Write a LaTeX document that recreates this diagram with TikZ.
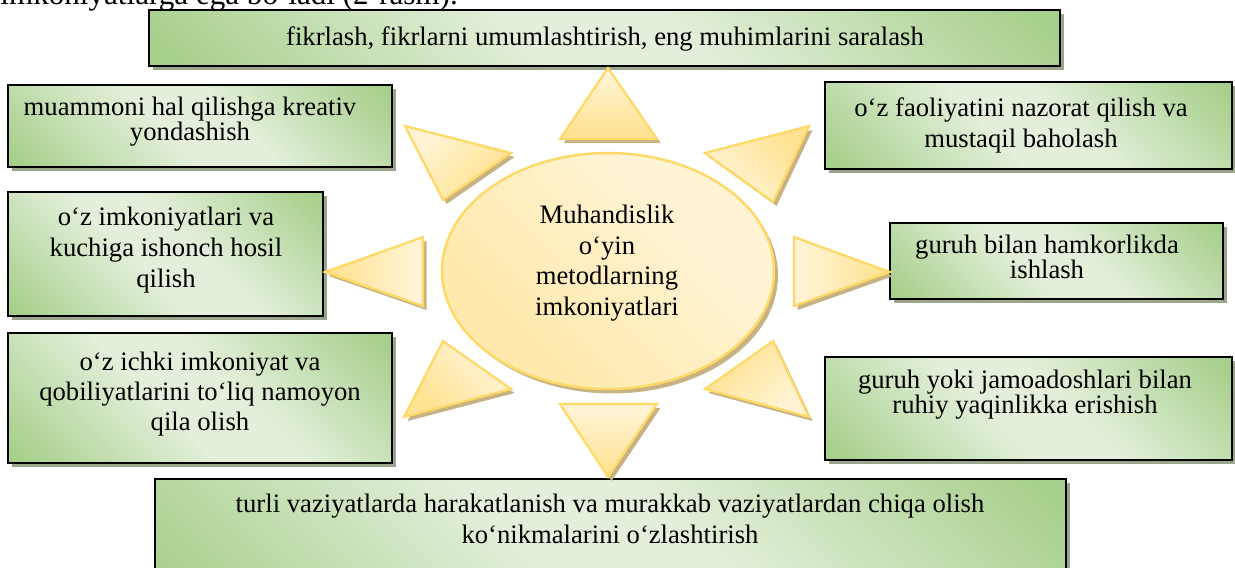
\documentclass[tikz,border=0pt]{standalone}
\usepackage{fontspec}
\setmainfont{Liberation Serif}
\usetikzlibrary{shapes.geometric,shadows}
\definecolor{gdark}{HTML}{A8D08D}
\definecolor{glight}{HTML}{E3EFDA}
\definecolor{bshadow}{HTML}{9AA58C}
\definecolor{sunedge}{HTML}{FFD966}
\definecolor{sunlight}{HTML}{FFF3D3}
\definecolor{sundark}{HTML}{FFE394}
\definecolor{sunmid}{HTML}{FFE9AC}
\definecolor{sshadow}{HTML}{C6B283}
\pgfdeclareverticalshading{greenbox}{100bp}{color(0bp)=(gdark); color(17bp)=(gdark); color(44bp)=(glight); color(56bp)=(glight); color(83bp)=(gdark); color(100bp)=(gdark)}
\pgfdeclareverticalshading{sunshade}{100bp}{color(0bp)=(sundark); color(30bp)=(sundark); color(70bp)=(sunlight); color(100bp)=(sunlight)}
\pgfdeclareverticalshading{sunell}{100bp}{color(0bp)=(sunmid); color(30bp)=(sunmid); color(65bp)=(sunlight); color(100bp)=(sunlight)}
\begin{document}
\begin{tikzpicture}[x=0.45pt, y=-0.45pt,
  gbox/.style 2 args={draw=black, line width=1.25pt, shade, shading=greenbox, shading angle=-45,
    minimum width=#1*0.45pt, minimum height=#2*0.45pt, inner sep=0pt,
    drop shadow={shadow xshift=1.8pt, shadow yshift=-2pt, fill=bshadow, opacity=1}},
  btxt/.style={anchor=north, inner sep=0pt, align=center, font=\fontsize{12}{14}\selectfont},
  tight/.style={font=\fontsize{12}{11}\selectfont},
  ray/.style={draw=sunedge, line width=1pt, shade, shading=sunshade,
    drop shadow={shadow xshift=1.6pt, shadow yshift=-1.8pt, fill=sshadow, opacity=1}},
  sunellipse/.style={ellipse, draw=sunedge, line width=1.1pt, shade, shading=sunell, shading angle=-45,
    minimum width=332*0.45pt, minimum height=236*0.45pt, inner sep=0pt,
    drop shadow={shadow xshift=1.8pt, shadow yshift=-2pt, fill=sshadow, opacity=1}}
]
\useasboundingbox (0,0) rectangle (1235,567);
\begin{scope}
\clip (0,0) rectangle (1235,567);
\node[anchor=base west, inner sep=0pt, font=\fontsize{14}{16}\selectfont] (head) at (0,4) {imkoniyatlarga ega bo‘ladi (2-rasm).};

% boxes
\node[gbox={911}{56}] (bTop) at (604.5,38) {};
\node[btxt] (tTop) at (605,25.8) {fikrlash, fikrlarni umumlashtirish, eng muhimlarini saralash};
\node[gbox={384}{82}] (bA) at (200,126) {};
\node[btxt,tight] (tA) at (190,96.8) {muammoni hal qilishga kreativ\\yondashish};
\node[gbox={407}{87}] (bB) at (1028.5,125.5) {};
\node[btxt] (tB) at (1021,96.8) {o‘z faoliyatini nazorat qilish va\\mustaqil baholash};
\node[gbox={315}{124}] (bC) at (165.5,254) {};
\node[btxt] (tC) at (166,206.8) {o‘z imkoniyatlari va\\kuchiga ishonch hosil\\qilish};
\node[gbox={333}{76}] (bD) at (1056.5,261) {};
\node[btxt,tight] (tD) at (1047,234.8) {guruh bilan hamkorlikda\\ishlash};
\node[gbox={384}{130}] (bE) at (200,398) {};
\node[btxt,font=\fontsize{12}{13.5}\selectfont] (tE) at (200,351.8) {o‘z ichki imkoniyat va\\qobiliyatlarini to‘liq namoyon\\qila olish};
\node[gbox={407}{103}] (bF) at (1028.5,408.5) {};
\node[btxt,tight] (tF) at (1025,369.8) {guruh yoki jamoadoshlari bilan\\ruhiy yaqinlikka erishish};
\node[gbox={911}{131}] (bG) at (610.5,544.5) {};
\node[btxt] (tG) at (610,493.8) {turli vaziyatlarda harakatlanish va murakkab vaziyatlardan chiqa olish\\ko‘nikmalarini o‘zlashtirish};

% sun rays
\path[ray, shading angle=0]    (560,139) -- (608,68)  -- (657,139) -- cycle;
\path[ray, shading angle=45]   (405,126) -- (511,153) -- (443,200) -- cycle;
\path[ray, shading angle=135]  (809,126) -- (705,153) -- (773,202) -- cycle;
\path[ray, shading angle=-90]  (325,272) -- (423,237) -- (423,306) -- cycle;
\path[ray, shading angle=90]   (890,272) -- (794,237) -- (794,306) -- cycle;
\path[ray, shading angle=-45]  (404,417) -- (443,341) -- (511,389) -- cycle;
\path[ray, shading angle=-135] (809,417) -- (773,341) -- (705,389) -- cycle;
\path[ray, shading angle=0]    (560,404) -- (657,404) -- (608,477) -- cycle;

% centre
\node[sunellipse] (sun) at (608,271) {};
\node[btxt,font=\fontsize{12}{13.7}\selectfont] (tSun) at (607,204.8) {Muhandislik\\o‘yin\\metodlarning\\imkoniyatlari};
\end{scope}
\end{tikzpicture}
\end{document}
